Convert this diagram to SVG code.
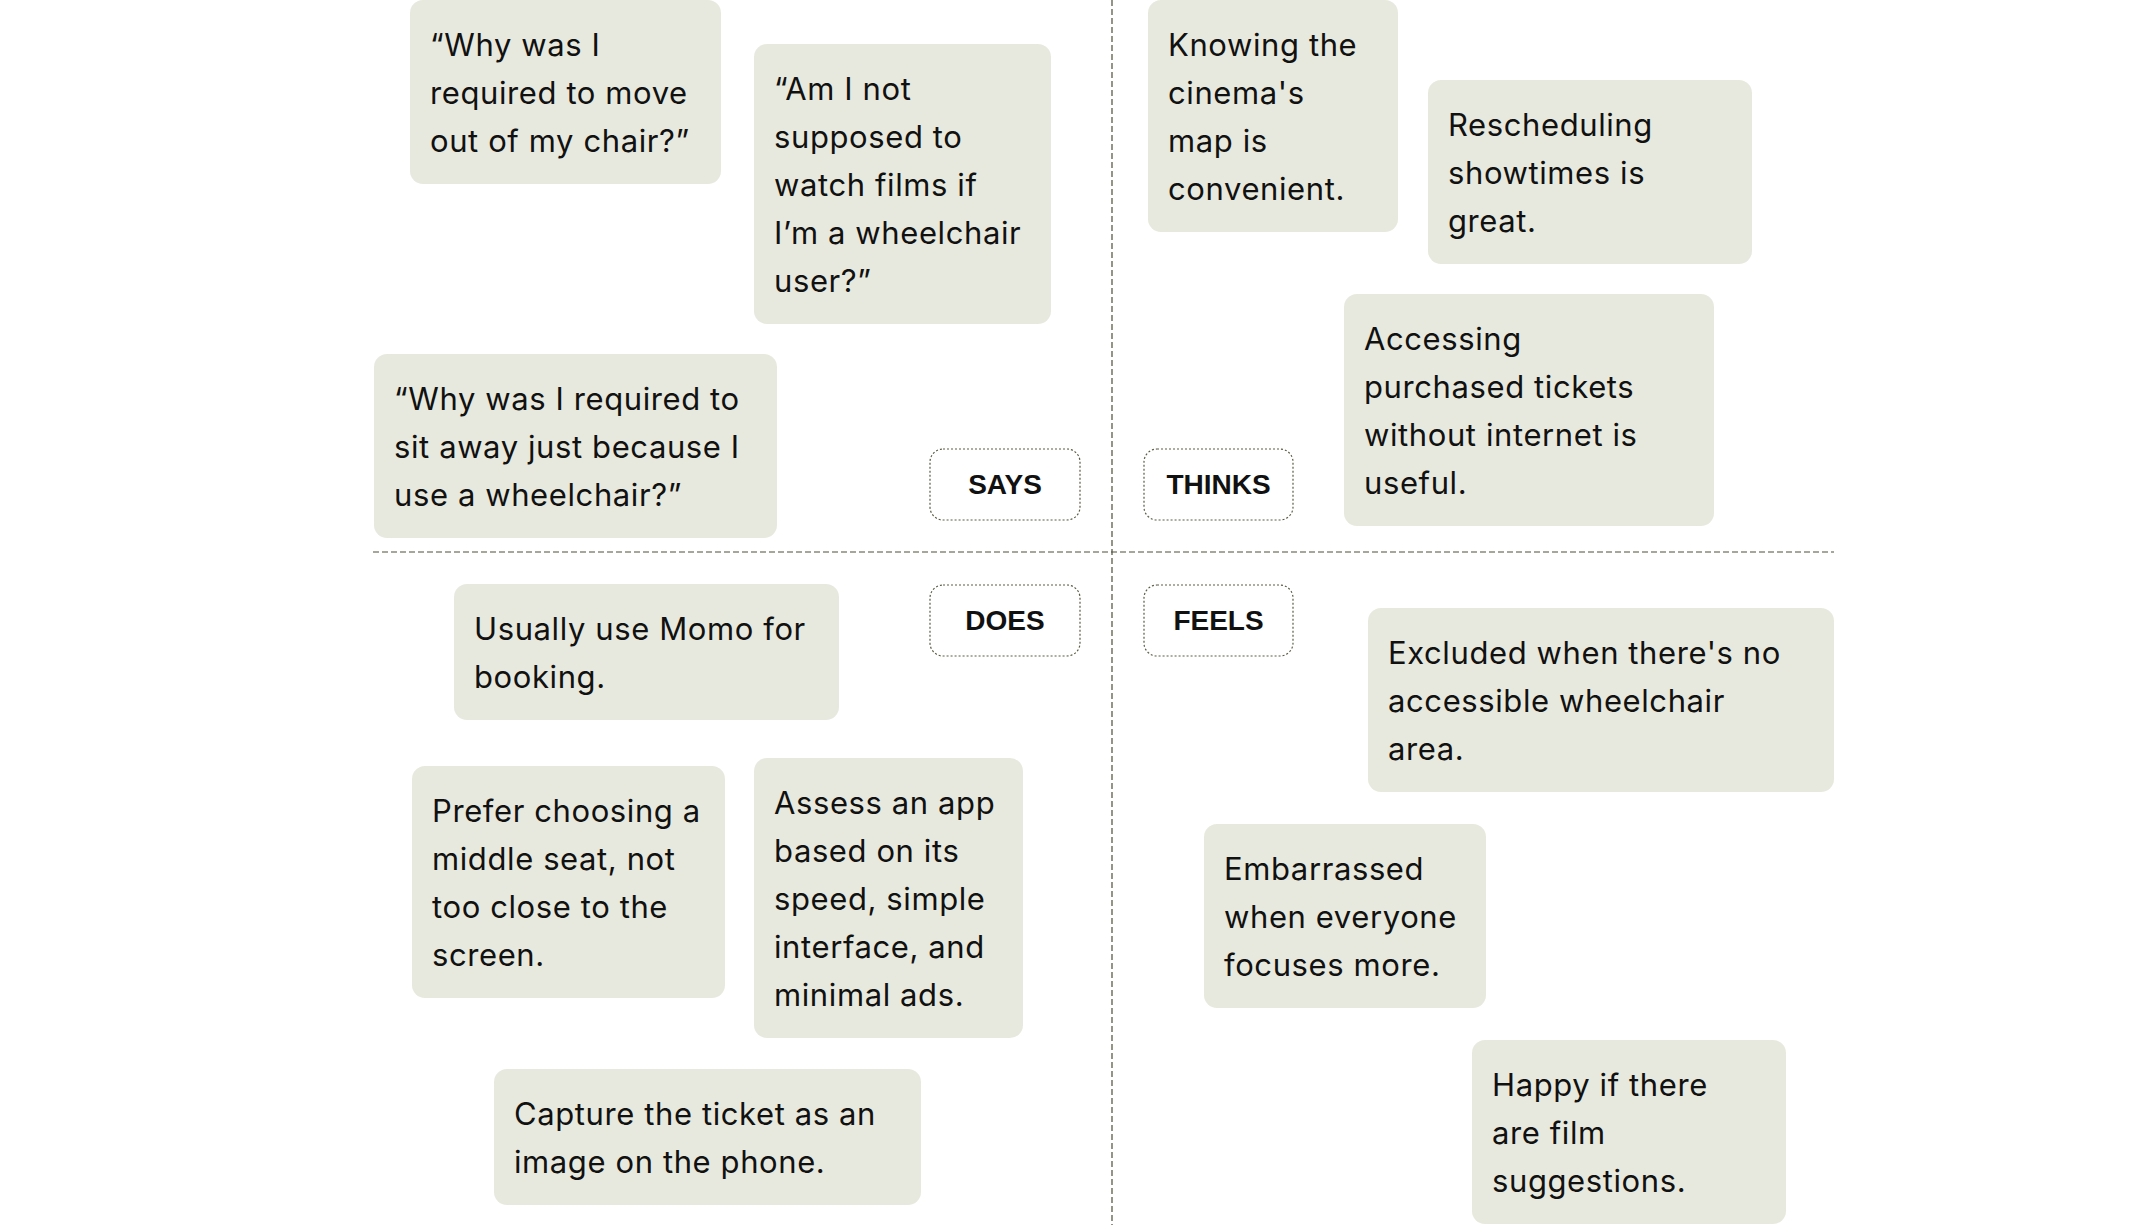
<svg xmlns="http://www.w3.org/2000/svg" width="2144" height="1225" viewBox="0 0 2144 1225">
<style>
.card{fill:#E8E9DE}
.t{font-family:Inter,"Open Sans",sans-serif;font-size:31px;letter-spacing:0.6px;fill:#111111}
.lab{fill:#FFFFFF;stroke:#5C5C45;stroke-width:1.2;stroke-dasharray:2 2}
.lt{font-family:"Liberation Sans",Arial,sans-serif;font-size:28px;font-weight:bold;fill:#111111;text-anchor:middle}
.axis{stroke:#4F4F38;stroke-width:1.2;stroke-dasharray:6 3;fill:none}
</style>
<rect width="2144" height="1225" fill="#FFFFFF"/>
<g id="connectors">
<line class="axis" x1="1112" y1="0" x2="1112" y2="1225"/>
<line class="axis" x1="373" y1="552" x2="1834" y2="552"/>
</g>
<g id="label-says"><rect class="lab" x="930" y="449" width="150" height="71" rx="13"/><text class="lt" x="1005" y="494">SAYS</text></g>
<g id="label-thinks"><rect class="lab" x="1144" y="449" width="149" height="71" rx="13"/><text class="lt" x="1218.5" y="494">THINKS</text></g>
<g id="label-does"><rect class="lab" x="930" y="585" width="150" height="71" rx="13"/><text class="lt" x="1005" y="630">DOES</text></g>
<g id="label-feels"><rect class="lab" x="1144" y="585" width="149" height="71" rx="13"/><text class="lt" x="1218.5" y="630">FEELS</text></g>

<g id="says-1"><rect class="card" x="410" y="0" width="311" height="184" rx="13"/><text class="t" x="430" y="56"><tspan x="430">“Why was I</tspan><tspan x="430" dy="48">required to move</tspan><tspan x="430" dy="48">out of my chair?”</tspan></text></g>
<g id="says-2"><rect class="card" x="754" y="44" width="297" height="280" rx="13"/><text class="t" x="774" y="100"><tspan x="774">“Am I not</tspan><tspan x="774" dy="48">supposed to</tspan><tspan x="774" dy="48">watch films if</tspan><tspan x="774" dy="48">I’m a wheelchair</tspan><tspan x="774" dy="48">user?”</tspan></text></g>
<g id="says-3"><rect class="card" x="374" y="354" width="403" height="184" rx="13"/><text class="t" x="394" y="410"><tspan x="394">“Why was I required to</tspan><tspan x="394" dy="48">sit away just because I</tspan><tspan x="394" dy="48">use a wheelchair?”</tspan></text></g>

<g id="thinks-1"><rect class="card" x="1148" y="0" width="250" height="232" rx="13"/><text class="t" x="1168" y="56"><tspan x="1168">Knowing the</tspan><tspan x="1168" dy="48">cinema's</tspan><tspan x="1168" dy="48">map is</tspan><tspan x="1168" dy="48">convenient.</tspan></text></g>
<g id="thinks-2"><rect class="card" x="1428" y="80" width="324" height="184" rx="13"/><text class="t" x="1448" y="136"><tspan x="1448">Rescheduling</tspan><tspan x="1448" dy="48">showtimes is</tspan><tspan x="1448" dy="48">great.</tspan></text></g>
<g id="thinks-3"><rect class="card" x="1344" y="294" width="370" height="232" rx="13"/><text class="t" x="1364" y="350"><tspan x="1364">Accessing</tspan><tspan x="1364" dy="48">purchased tickets</tspan><tspan x="1364" dy="48">without internet is</tspan><tspan x="1364" dy="48">useful.</tspan></text></g>

<g id="does-1"><rect class="card" x="454" y="584" width="385" height="136" rx="13"/><text class="t" x="474" y="640"><tspan x="474">Usually use Momo for</tspan><tspan x="474" dy="48">booking.</tspan></text></g>
<g id="does-2"><rect class="card" x="412" y="766" width="313" height="232" rx="13"/><text class="t" x="432" y="822"><tspan x="432">Prefer choosing a</tspan><tspan x="432" dy="48">middle seat, not</tspan><tspan x="432" dy="48">too close to the</tspan><tspan x="432" dy="48">screen.</tspan></text></g>
<g id="does-3"><rect class="card" x="754" y="758" width="269" height="280" rx="13"/><text class="t" x="774" y="814"><tspan x="774">Assess an app</tspan><tspan x="774" dy="48">based on its</tspan><tspan x="774" dy="48">speed, simple</tspan><tspan x="774" dy="48">interface, and</tspan><tspan x="774" dy="48">minimal ads.</tspan></text></g>
<g id="does-4"><rect class="card" x="494" y="1069" width="427" height="136" rx="13"/><text class="t" x="514" y="1125"><tspan x="514">Capture the ticket as an</tspan><tspan x="514" dy="48">image on the phone.</tspan></text></g>

<g id="feels-1"><rect class="card" x="1368" y="608" width="466" height="184" rx="13"/><text class="t" x="1388" y="664"><tspan x="1388">Excluded when there's no</tspan><tspan x="1388" dy="48">accessible wheelchair</tspan><tspan x="1388" dy="48">area.</tspan></text></g>
<g id="feels-2"><rect class="card" x="1204" y="824" width="282" height="184" rx="13"/><text class="t" x="1224" y="880"><tspan x="1224">Embarrassed</tspan><tspan x="1224" dy="48">when everyone</tspan><tspan x="1224" dy="48">focuses more.</tspan></text></g>
<g id="feels-3"><rect class="card" x="1472" y="1040" width="314" height="184" rx="13"/><text class="t" x="1492" y="1096"><tspan x="1492">Happy if there</tspan><tspan x="1492" dy="48">are film</tspan><tspan x="1492" dy="48">suggestions.</tspan></text></g>
</svg>
